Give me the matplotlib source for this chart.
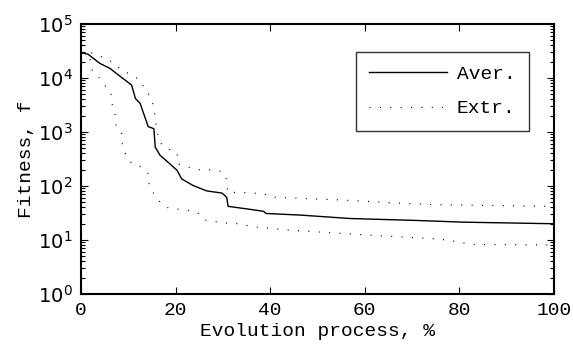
import matplotlib
matplotlib.use("Agg")
import matplotlib.pyplot as plt
from matplotlib.ticker import LogLocator, LogFormatterMathtext, NullFormatter

# Average fitness curve
x_aver = [0, 1.5, 4.0, 6.1, 8.6, 10.7, 11.5, 12.5, 14.2, 15.4, 15.7, 16.7, 18.8, 20.3,
          21.3, 23.7, 26.6, 29.8, 30.8, 31.1, 35.7, 38.6, 39.1, 46.2, 56.9, 71, 80.8, 100]
y_aver = [29500, 27500, 18600, 15100, 10200, 7400, 4170, 3390, 1260, 1150, 525, 372, 257, 195,
          135, 102, 81, 74, 62, 42, 37, 34, 31, 29, 25, 23, 21.4, 20]

# Upper extreme
x_upper = [0, 2.6, 4.9, 6.9, 8.6, 10.5, 12.5, 13.5, 14.7, 15.4, 15.7, 16.0, 16.6, 18.1, 20.3,
           20.5, 22.5, 25.0, 27.4, 29.8, 30.8, 31.0, 33.6, 38.6, 40.3, 55.4, 65.3, 75.2, 100]
y_upper = [31600, 28800, 23400, 19100, 13800, 11700, 9120, 6170, 4470, 2880, 1780, 1100, 646,
           501, 417, 257, 224, 200, 200, 186, 132, 76, 76, 72, 62, 55, 49, 45, 42]

# Lower extreme
x_lower = [0, 1.9, 2.4, 3.8, 5.0, 6.3, 6.6, 7.2, 7.4, 8.6, 8.8, 9.5, 10.7, 12.6, 14.1, 14.4,
           15.4, 16.6, 18.2, 20.6, 23.0, 24.8, 26.2, 28.5, 31.1, 33.6, 35.9, 42.8, 56.9, 71,
           75.2, 78, 82.6, 100]
y_lower = [28000, 21900, 13800, 10200, 7410, 5370, 3240, 2090, 1260, 933, 550, 372, 263, 229,
           174, 110, 72, 52, 40, 37, 35, 31, 23.4, 21.9, 20.4, 20, 17.8, 15.5, 12.9, 11,
           10.5, 9.8, 8.3, 8.1]

x_ticks = [0, 20, 40, 60, 80, 100]
mono = "Liberation Mono"

fig = plt.figure(figsize=(5.73, 3.49), dpi=100)
ax = fig.add_axes([81/573, 1-294/349, (554-81)/573, (294-24)/349])

dot = (0, (0.8, 7.5))
ax.plot(x_aver, y_aver, color="black", lw=1.0, label="Aver.")
ax.plot(x_upper, y_upper, color="black", lw=0.9, linestyle=dot, label="Extr.")
ax.plot(x_lower, y_lower, color="black", lw=0.9, linestyle=dot)

ax.set_yscale("log")
ax.set_xlim(0, 100)
ax.set_ylim(1, 1e5)
ax.set_xticks(x_ticks)
ax.set_xticklabels([str(t) for t in x_ticks], fontfamily=mono, fontsize=14)
ax.yaxis.set_major_locator(LogLocator(base=10, numticks=10))
ax.yaxis.set_major_formatter(LogFormatterMathtext())
ax.yaxis.set_minor_locator(LogLocator(base=10, subs=range(2, 10), numticks=20))
ax.yaxis.set_minor_formatter(NullFormatter())
for lab in ax.get_yticklabels():
    lab.set_fontsize(14)

ax.tick_params(which="both", direction="in", top=True, right=True, width=0.8)
ax.tick_params(which="major", length=5, pad=6)
ax.tick_params(which="minor", length=3)
for s in ax.spines.values():
    s.set_linewidth(1.5)

ax.set_xlabel("Evolution process, %", fontfamily=mono, fontsize=14, labelpad=3)
ax.set_ylabel("Fitness, f", fontfamily=mono, fontsize=14, labelpad=2)

leg = ax.legend(loc="upper right", bbox_to_anchor=(529/573, 1-52/349), bbox_transform=fig.transFigure,
                prop={"family": mono, "size": 14}, frameon=True, fancybox=False,
                edgecolor="black", handlelength=4.0, borderpad=0.7, labelspacing=0.85,
                handletextpad=0.5, borderaxespad=0)
leg.get_frame().set_linewidth(1.0)

fig.savefig("out.png", dpi=100)
